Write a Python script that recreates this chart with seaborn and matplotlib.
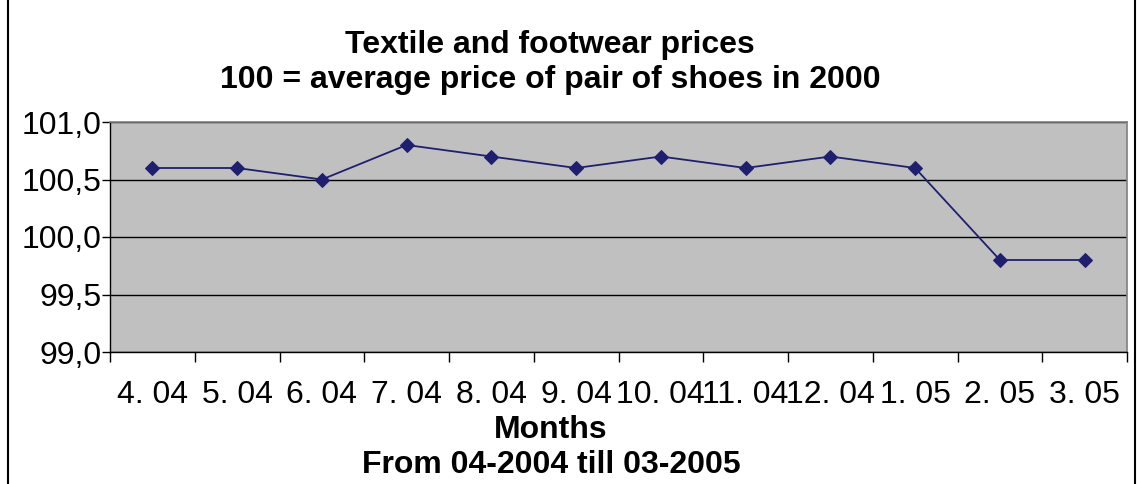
import numpy as np
import pandas as pd
import matplotlib
matplotlib.use("Agg")
import matplotlib.pyplot as plt
import seaborn as sns
from matplotlib.ticker import FuncFormatter

months = ['4. 04', '5. 04', '6. 04', '7. 04', '8. 04', '9. 04',
          '10. 04', '11. 04', '12. 04', '1. 05', '2. 05', '3. 05']
prices = [100.6, 100.6, 100.5, 100.8, 100.7, 100.6,
          100.7, 100.6, 100.7, 100.6, 99.8, 99.8]
y_ticks = [99.0, 99.5, 100.0, 100.5, 101.0]

df = pd.DataFrame({'pos': np.arange(len(months)), 'price': prices})

sns.set_style('white')
plt.rcParams['font.family'] = ['Liberation Sans', 'DejaVu Sans']
plt.rcParams['text.color'] = 'black'
plt.rcParams['xtick.color'] = 'black'
plt.rcParams['ytick.color'] = 'black'

W, H = 1137, 484
fig = plt.figure(figsize=(W / 100, H / 100), dpi=100)
ax = fig.add_axes([110 / W, (H - 352) / H, 1017 / W, 230 / H])
ax.set_facecolor('#C0C0C0')

sns.lineplot(data=df, x='pos', y='price', ax=ax, color='#1F1F70',
             marker='D', markersize=7, markeredgecolor='#1F1F70',
             linewidth=1.3, zorder=3)

ax.set_xlim(-0.5, len(months) - 0.5)
ax.set_ylim(99.0, 101.0)
ax.set_yticks(y_ticks)
ax.yaxis.set_major_formatter(FuncFormatter(lambda v, p: f'{v:.1f}'.replace('.', ',')))
ax.tick_params(axis='y', labelsize=23, length=6, width=1, direction='out',
               left=True, pad=0, labelcolor='black')
ax.grid(axis='y', color='black', linewidth=1)
ax.set_axisbelow(True)

ax.set_xticks(np.arange(len(months)))
ax.set_xticklabels(months)
ax.set_xticks(np.arange(-0.5, len(months), 1), minor=True)
ax.tick_params(axis='x', which='major', length=0, labelsize=23, pad=20,
               labelcolor='black')
ax.tick_params(axis='x', which='minor', length=7, width=1, direction='out',
               bottom=True)
ax.set_xlabel('')
ax.set_ylabel('')

for side in ['top', 'right']:
    ax.spines[side].set_color('#808080')
    ax.spines[side].set_linewidth(1.2)
for side in ['left', 'bottom']:
    ax.spines[side].set_color('black')
    ax.spines[side].set_linewidth(1)

fig.text(550 / W, 1 - 45 / H, 'Textile and footwear prices', ha='center',
         va='center', fontsize=23, fontweight='bold', color='black')
fig.text(550 / W, 1 - 80 / H, '100 = average price of pair of shoes in 2000',
         ha='center', va='center', fontsize=23, fontweight='bold', color='black')
fig.text(551 / W, 1 - 430 / H, 'Months', ha='center', va='center',
         fontsize=23, fontweight='bold', color='black')
fig.text(551 / W, 1 - 465 / H, 'From 04-2004 till 03-2005', ha='center',
         va='center', fontsize=23, fontweight='bold', color='black')

border = plt.Rectangle((8 / W, -0.01), (1135 - 8) / W, 1.02, transform=fig.transFigure,
                       fill=False, edgecolor='black', linewidth=1.5)
fig.patches.append(border)

fig.savefig('out.png', dpi=100)
